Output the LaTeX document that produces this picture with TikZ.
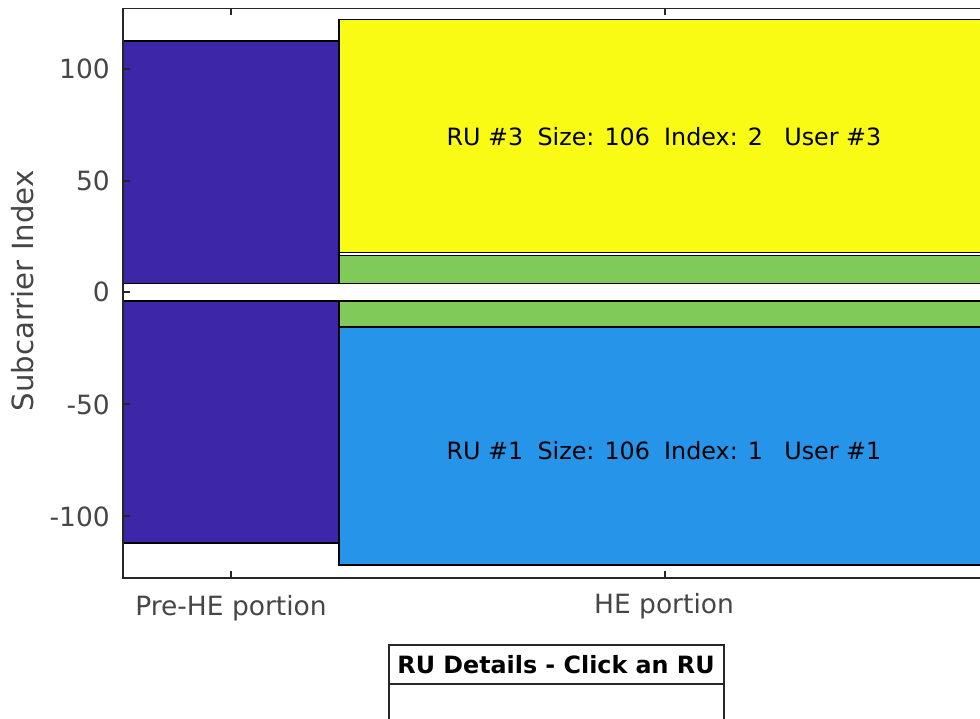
\documentclass[tikz,border=0pt]{standalone}
\usepackage{fontspec}
\setmainfont{DejaVu Sans}
\definecolor{axcol}{RGB}{38,38,38}
\definecolor{ticktext}{RGB}{70,70,70}
\definecolor{rupurple}{RGB}{62,38,168}
\definecolor{ruyellow}{RGB}{249,251,20}
\definecolor{rugreen}{RGB}{127,202,88}
\definecolor{rublue}{RGB}{38,148,232}
\tikzset{
  patchbox/.style={draw=black,line width=1.4pt},
  axline/.style={draw=axcol,line width=1.3pt},
  ticklab/.style={text=ticktext,font=\fontsize{26.5}{30}\selectfont,inner sep=0pt},
  rulab/.style={text=black,font=\fontsize{23.8}{28}\selectfont,inner sep=0pt},
}
\begin{document}
\begin{tikzpicture}[x=1pt,y=-1pt]
\useasboundingbox (0,0) rectangle (980,719);
\clip (0,0) rectangle (980,719);
\fill[white] (0,0) rectangle (980,719);
% patches
\filldraw[patchbox,fill=rupurple] (123,41) rectangle (339,283.5);
\filldraw[patchbox,fill=rupurple] (123,301) rectangle (339,543);
\filldraw[patchbox,fill=ruyellow] (339,19.5) rectangle (995,252.5);
\filldraw[patchbox,fill=rugreen] (339,255.5) rectangle (995,283.5);
\filldraw[patchbox,fill=rugreen] (339,301) rectangle (995,327);
\filldraw[patchbox,fill=rublue] (339,327) rectangle (995,565);
% axes
\draw[axline] (995,8.5) -- (123,8.5) -- (123,578) -- (995,578);
% ticks
\foreach \yy in {69,181,292,404,516} \draw[axline] (123,\yy) -- (130,\yy);
\foreach \xx in {231,665} {
  \draw[axline] (\xx,578) -- (\xx,571);
  \draw[axline] (\xx,8.5) -- (\xx,15.5);
}
% tick labels
\node[ticklab,anchor=east] (t100) at (110,69) {100};
\node[ticklab,anchor=east] (t50) at (110,181) {50};
\node[ticklab,anchor=east] (t0) at (110,292) {0};
\node[ticklab,anchor=east] (tm50) at (110,405) {-50};
\node[ticklab,anchor=east] (tm100) at (110,517) {-100};
\node[ticklab,anchor=base] (xpre) at (231,615) {Pre-HE portion};
\node[ticklab,anchor=base] (xhe) at (664,613) {HE portion};
\node[ticklab,font=\fontsize{29.2}{33}\selectfont,rotate=90,anchor=base] (ylab) at (33,291) {Subcarrier Index};
% RU labels
\node[rulab,anchor=base] (ru3) at (664,146) {RU \#3\hspace{0.6em}Size: 106\hspace{0.6em}Index: 2\hspace{0.9em}User \#3};
\node[rulab,anchor=base] (ru1) at (664,459) {RU \#1\hspace{0.6em}Size: 106\hspace{0.6em}Index: 1\hspace{0.9em}User \#1};
% table
\draw[draw=axcol,line width=1.2pt] (389,730) -- (389,645) -- (724,645) -- (724,730);
\draw[draw=axcol,line width=1.2pt] (389,684) -- (724,684);
\node[text=black,font=\fontsize{23.8}{28}\selectfont\bfseries,inner sep=0pt,anchor=base] (tab) at (556,673) {RU Details - Click an RU};
\end{tikzpicture}
\end{document}
